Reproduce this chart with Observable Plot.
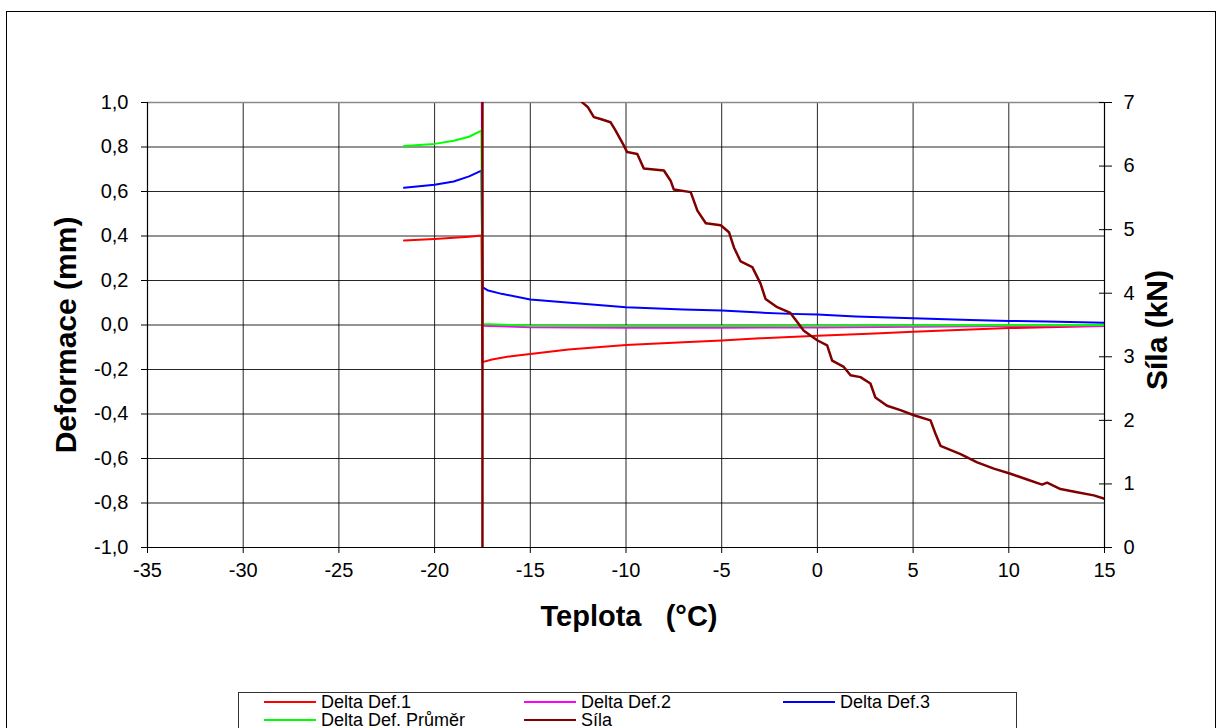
<!DOCTYPE html>
<html><head><meta charset="utf-8">
<script src="https://cdn.jsdelivr.net/npm/d3@7"></script>
<script src="https://cdn.jsdelivr.net/npm/@observablehq/plot@0.6"></script>
<style>
body{margin:0;background:#fff;font-family:"Liberation Sans",Arial,sans-serif;}
#wrap{position:relative;width:1222px;height:728px;overflow:hidden;background:#fff}
#frame{position:absolute;left:6px;top:11px;width:1210px;height:760px;border:1px solid #000;box-sizing:border-box}
#chart{position:absolute;left:0;top:0}
#legend{position:absolute;left:238px;top:692px;width:779px;height:60px;border:1px solid #333;box-sizing:border-box;background:#fff}
.item{position:absolute;height:18px;display:flex;align-items:center;font-size:18px;white-space:nowrap;color:#000}
.swatch{display:inline-block;width:52px;height:0;border-top:2px solid;margin-right:5px}
</style>
</head><body>
<div id="wrap"><div id="frame"></div><div id="chart"></div><div id="legend"></div></div>
<script>
// ---- data ----
const seriesNames = ["Delta Def.1", "Delta Def.2", "Delta Def.3", "Delta Def. Průměr", "Síla"];
const seriesColors = ["#ff0000", "#ff00ff", "#0000ff", "#00ff00", "#800000"];

const xTicks = [-35, -30, -25, -20, -15, -10, -5, 0, 5, 10, 15];
const yTicks = [-1, -0.8, -0.6, -0.4, -0.2, 0, 0.2, 0.4, 0.6, 0.8, 1];
const silaTicks = [0, 1, 2, 3, 4, 5, 6, 7];
const silaMax = 7;

// Delta Def.1 (mm)
const def1T = [-21.6, -20, -19, -18.2, -17.55, -17.5, -17, -16, -15, -13, -10, -7, -5, -3, 0, 3, 5, 8, 10, 12, 15];
const def1V = [0.380, 0.387, 0.392, 0.397, 0.402, -0.167, -0.155, -0.140, -0.130, -0.110, -0.090, -0.078, -0.070, -0.060, -0.048, -0.038, -0.030, -0.020, -0.014, -0.010, -0.005];
// Delta Def.2 (mm)
const def2T = [-21.6, -20, -19, -18.2, -17.55, -17.5, -15, -10, -5, 0, 5, 10, 15];
const def2V = [1.40, 1.43, 1.45, 1.47, 1.53, -0.003, -0.010, -0.012, -0.012, -0.011, -0.008, -0.005, -0.005];
// Delta Def.3 (mm)
const def3T = [-21.6, -20, -19, -18.2, -17.55, -17.5, -17.2, -16.5, -15, -13.4, -10, -7, -5, -3, -1.4, 0, 2, 5, 8, 10, 12, 15];
const def3V = [0.617, 0.630, 0.645, 0.668, 0.694, 0.170, 0.155, 0.140, 0.115, 0.103, 0.080, 0.070, 0.065, 0.056, 0.050, 0.047, 0.038, 0.030, 0.022, 0.018, 0.016, 0.010];
// Delta Def. Průměr (mm)
const avgT = [-21.6, -20, -19, -18.2, -17.55, -17.5, -16, -15, -10, -5, 0, 5, 10, 15];
const avgV = [0.804, 0.814, 0.828, 0.846, 0.874, 0.005, 0.000, -0.003, -0.005, -0.005, -0.003, -0.002, -0.001, 0.000];
// Síla (kN)
const silaT = [-17.5, -17.5, -14, -12.24, -12.0, -11.68, -11.33, -10.81, -10.55, -10.11, -9.94, -9.41, -9.07, -8.02, -7.67, -7.50, -6.62, -6.27, -5.83, -5.05, -4.62, -4.36, -4.01, -3.40, -2.97, -2.71, -2.10, -1.41, -0.71, -0.01, 0.51, 0.77, 1.38, 1.73, 2.25, 2.77, 3.03, 3.64, 4.34, 5.04, 5.91, 6.17, 6.43, 7.48, 8.35, 9.22, 10.09, 10.96, 11.74, 12.0, 12.70, 13.57, 14.44, 14.96];
const silaV = [0, 8.5, 7.5, 6.99, 6.93, 6.77, 6.74, 6.69, 6.56, 6.32, 6.22, 6.19, 5.96, 5.93, 5.77, 5.63, 5.59, 5.30, 5.10, 5.07, 4.96, 4.72, 4.50, 4.41, 4.15, 3.91, 3.78, 3.69, 3.41, 3.26, 3.18, 2.94, 2.84, 2.71, 2.68, 2.58, 2.36, 2.23, 2.16, 2.08, 2.00, 1.79, 1.60, 1.47, 1.34, 1.24, 1.16, 1.07, 0.99, 1.02, 0.92, 0.87, 0.82, 0.77];

// ---- build ----
const toLeft = s => s / silaMax * 2 - 1;       // Síla (kN) -> left axis units
const fromLeft = v => Math.round((v + 1) * silaMax / 2);
const rows = (name, T, V, f = d => d) => T.map((t, i) => ({series: name, t, v: f(V[i])}));
const data = [
  ...rows(seriesNames[0], def1T, def1V),
  ...rows(seriesNames[1], def2T, def2V),
  ...rows(seriesNames[2], def3T, def3V),
  ...rows(seriesNames[3], avgT, avgV),
  ...rows(seriesNames[4], silaT, silaV, toLeft)
];
const colorOf = Object.fromEntries(seriesNames.map((n, i) => [n, seriesColors[i]]));
const yFmt = v => (Math.abs(v) < 1e-9 ? 0 : v).toFixed(1).replace(".", ",");

const lineMarks = seriesNames.map(n => Plot.line(data.filter(d => d.series === n), {
  x: "t", y: "v", stroke: colorOf[n], strokeWidth: n === "Síla" ? 2.5 : 2, clip: true
}));

const chart = Plot.plot({
  width: 1222, height: 728,
  marginTop: 102, marginBottom: 181, marginLeft: 147, marginRight: 118,
  style: {fontFamily: "'Liberation Sans', Arial, sans-serif", fontSize: "20px", background: "transparent", color: "#000"},
  x: {domain: [-35, 15]},
  y: {domain: [-1, 1]},
  marks: [
    Plot.gridX(xTicks, {stroke: "#000", strokeOpacity: 0.85, strokeWidth: 1}),
    Plot.gridY(yTicks, {stroke: "#000", strokeOpacity: 0.85, strokeWidth: 1}),
    Plot.ruleY([1], {stroke: "#8a8a8a", strokeWidth: 1.5}),
    ...lineMarks,
    Plot.ruleX([-35], {stroke: "#000", strokeWidth: 1.2}),
    Plot.ruleX([15], {stroke: "#000", strokeWidth: 1.2}),
    Plot.ruleY([-1], {stroke: "#000", strokeWidth: 1.2}),
    Plot.axisX(xTicks, {tickSize: 6, tickPadding: 9, label: null, tickFormat: d => String(d), fontSize: 20}),
    Plot.axisY(yTicks, {anchor: "left", tickSize: 6, tickPadding: 13, label: null, tickFormat: yFmt, fontSize: 20}),
    Plot.axisY(silaTicks.map(toLeft), {anchor: "right", tickSize: 7, tickPadding: 12, label: null, tickFormat: fromLeft, fontSize: 20}),
    Plot.axisY(silaTicks.map(toLeft), {anchor: "right", tickSize: -6, tickPadding: 0, label: null, tickFormat: () => ""}),
    Plot.text(["Teplota\u00a0\u00a0\u00a0(°C)"], {frameAnchor: "bottom", textAnchor: "middle", dy: 78, dx: 3, fontSize: 29, fontWeight: "bold"}),
    Plot.text(["Deformace (mm)"], {frameAnchor: "left", textAnchor: "middle", rotate: -90, dx: -81, dy: 10, fontSize: 30, fontWeight: "bold"}),
    Plot.text(["Síla (kN)"], {frameAnchor: "right", textAnchor: "middle", rotate: -90, dx: 53, dy: 5, fontSize: 30, fontWeight: "bold"})
  ]
});
document.getElementById("chart").appendChild(chart);

// legend
const legend = document.getElementById("legend");
const colX = [25, 285, 544];
const rowY = [0, 18];
seriesNames.forEach((n, i) => {
  const el = document.createElement("div");
  el.className = "item";
  el.style.left = colX[i % 3] + "px";
  el.style.top = rowY[Math.floor(i / 3)] + "px";
  const sw = document.createElement("span");
  sw.className = "swatch";
  sw.style.borderTopColor = seriesColors[i];
  el.appendChild(sw);
  el.appendChild(document.createTextNode(n));
  legend.appendChild(el);
});
</script>
</body></html>
